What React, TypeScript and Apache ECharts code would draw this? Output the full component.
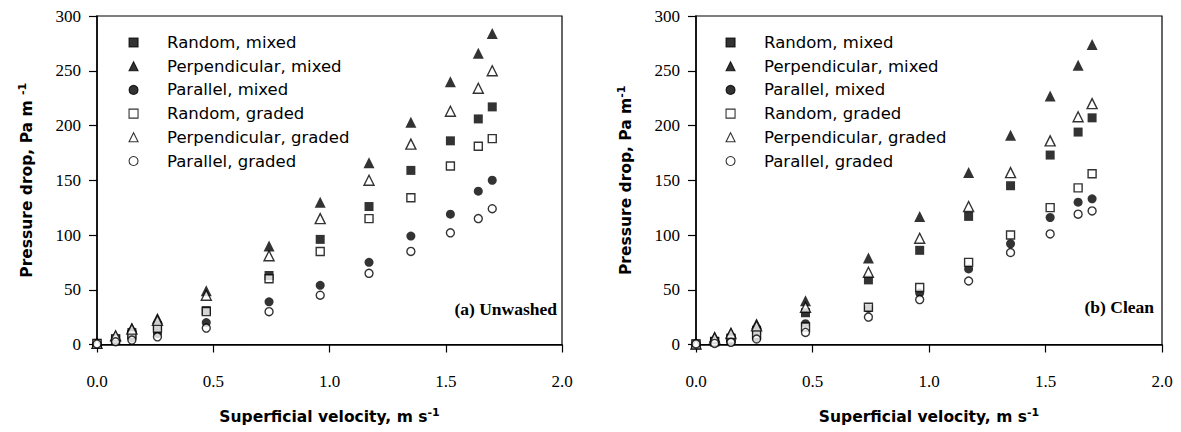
import React, { useEffect, useRef } from "react";
import * as echarts from "echarts";

// Superficial velocity (m s-1), shared by both panels
const velocity = [0, 0.08, 0.15, 0.26, 0.47, 0.74, 0.96, 1.17, 1.35, 1.52, 1.64, 1.7];

const seriesNames = [
  "Random, mixed",
  "Perpendicular, mixed",
  "Parallel, mixed",
  "Random, graded",
  "Perpendicular, graded",
  "Parallel, graded",
];

// (a) Unwashed – pressure drop, Pa m-1
const unwashedRandomMixed = [1, 5, 11, 17, 31, 63, 96, 126, 159, 186, 206, 217];
const unwashedPerpMixed = [1, 8, 15, 24, 49, 90, 130, 166, 203, 240, 266, 284];
const unwashedParallelMixed = [0.5, 3, 6, 10, 20, 39, 54, 75, 99, 119, 140, 150];
const unwashedRandomGraded = [1, 5, 9, 15, 30, 60, 85, 115, 134, 163, 181, 188];
const unwashedPerpGraded = [1, 8, 14, 22, 45, 81, 115, 150, 183, 213, 234, 250];
const unwashedParallelGraded = [0.5, 2.5, 4, 7, 15, 30, 45, 65, 85, 102, 115, 124];

// (b) Clean – pressure drop, Pa m-1
const cleanRandomMixed = [0.5, 3, 6, 13, 29, 59, 86, 117, 145, 173, 194, 207];
const cleanPerpMixed = [0.5, 7, 11, 19, 40, 79, 117, 157, 191, 227, 255, 274];
const cleanParallelMixed = [0.5, 2, 3, 6, 19, 33, 47, 69, 92, 116, 130, 133];
const cleanRandomGraded = [0.5, 2.5, 5, 9, 16, 34, 52, 75, 100, 125, 143, 156];
const cleanPerpGraded = [0.5, 6, 10, 17, 34, 66, 97, 126, 157, 186, 208, 220];
const cleanParallelGraded = [0.5, 1, 2, 5, 11, 25, 41, 58, 84, 101, 119, 122];

const unwashedValues = [
  unwashedRandomMixed,
  unwashedPerpMixed,
  unwashedParallelMixed,
  unwashedRandomGraded,
  unwashedPerpGraded,
  unwashedParallelGraded,
];
const cleanValues = [
  cleanRandomMixed,
  cleanPerpMixed,
  cleanParallelMixed,
  cleanRandomGraded,
  cleanPerpGraded,
  cleanParallelGraded,
];

const panelLabels = ["(a) Unwashed", "(b) Clean"];
const yNames = ["Pressure drop, Pa m ", "Pressure drop, Pa m"];
const xName = "Superficial velocity, m s";
const superscript = "-1";

// marker styles
const markerSymbols = ["rect", "triangle", "circle", "rect", "triangle", "circle"];
const markerSizes = [9, 11, 9, 8, 10, 8];
const markerFilled = [true, true, true, false, false, false];

const SERIF = "'Liberation Serif', 'Times New Roman', serif";
const SANS = "'DejaVu Sans', 'Liberation Sans', Arial, sans-serif";

function buildSeries(values: number[][], axisIndex: number) {
  return values.map((vals, i) => ({
    name: seriesNames[i],
    type: "scatter",
    xAxisIndex: axisIndex,
    yAxisIndex: axisIndex,
    symbol: markerSymbols[i],
    symbolSize: markerSizes[i],
    data: vals.map((v, k) => [velocity[k], v]),
    itemStyle: markerFilled[i]
      ? { color: "#000", borderColor: "#000", borderWidth: 0 }
      : { color: "#fff", borderColor: "#000", borderWidth: 1.4 },
    emphasis: { disabled: true },
  }));
}

const richName = {
  a: { fontFamily: SANS, fontWeight: "bold", fontSize: 15.5, color: "#000", lineHeight: 20 },
  b: { fontFamily: SANS, fontWeight: "bold", fontSize: 11, color: "#000", verticalAlign: "top", lineHeight: 11 },
};

function makeXAxis(gridIndex: number) {
  return {
    type: "value",
    gridIndex,
    min: 0,
    max: 2,
    interval: 0.5,
    name: `{a|${xName}}{b|${superscript}}`,
    nameLocation: "middle",
    nameGap: 62,
    nameTextStyle: { rich: richName },
    axisLine: { show: true, onZero: false, lineStyle: { color: "#000", width: 1.5 } },
    axisTick: { show: true, inside: false, length: 8, lineStyle: { color: "#000", width: 1.2 } },
    axisLabel: {
      fontFamily: SERIF,
      fontSize: 17,
      color: "#000",
      margin: 28,
      formatter: (v: number) => v.toFixed(1),
    },
    splitLine: { show: false },
  };
}

function makeYAxis(gridIndex: number) {
  return {
    type: "value",
    gridIndex,
    min: 0,
    max: 300,
    interval: 50,
    name: `{a|${yNames[gridIndex]}}{b|${superscript}}`,
    nameLocation: "middle",
    nameRotate: 90,
    nameGap: 60,
    nameTextStyle: { rich: richName },
    axisLine: { show: true, onZero: false, lineStyle: { color: "#000", width: 1.5 } },
    axisTick: { show: true, inside: false, length: 8, lineStyle: { color: "#000", width: 1.2 } },
    axisLabel: { fontFamily: SERIF, fontSize: 17, color: "#000", margin: 16 },
    splitLine: { show: false },
  };
}

function makeLegend(left: number) {
  return {
    left,
    top: 34,
    orient: "vertical",
    padding: 0,
    itemWidth: 9,
    itemHeight: 9,
    itemGap: 6.7,
    selectedMode: false,
    data: seriesNames,
    itemStyle: { borderWidth: 1.1 },
    textStyle: {
      fontFamily: SANS,
      fontSize: 16.5,
      color: "#000",
      lineHeight: 17,
      padding: [0, 0, 0, 24],
    },
  };
}

export default function App() {
  const ref = useRef<HTMLDivElement>(null);

  useEffect(() => {
    if (!ref.current) return;
    const chart = echarts.init(ref.current, null, { renderer: "svg" });
    const option = {
      animation: false,
      backgroundColor: "#fff",
      grid: [
        { left: 97, top: 16, width: 465, height: 328.5, show: true, borderColor: "#000", borderWidth: 1.2, backgroundColor: "transparent" },
        { left: 696, top: 16, width: 466, height: 328.5, show: true, borderColor: "#000", borderWidth: 1.2, backgroundColor: "transparent" },
      ],
      xAxis: [makeXAxis(0), makeXAxis(1)],
      yAxis: [makeYAxis(0), makeYAxis(1)],
      legend: [makeLegend(128.5), makeLegend(725.5)],
      series: [...buildSeries(unwashedValues, 0), ...buildSeries(cleanValues, 1)],
      graphic: [
        {
          type: "text",
          x: 557,
          y: 309,
          style: {
            text: panelLabels[0],
            fontFamily: SERIF,
            fontWeight: "bold",
            fontSize: 17.5,
            fill: "#000",
            textAlign: "right",
            textVerticalAlign: "middle",
          },
        },
        {
          type: "text",
          x: 1154,
          y: 307,
          style: {
            text: panelLabels[1],
            fontFamily: SERIF,
            fontWeight: "bold",
            fontSize: 17.5,
            fill: "#000",
            textAlign: "right",
            textVerticalAlign: "middle",
          },
        },
      ],
    };
    chart.setOption(option as any);
    return () => {
      chart.dispose();
    };
  }, []);

  return (
    <div
      ref={ref}
      style={{ position: "absolute", left: 0, top: 0, width: 1181, height: 432 }}
    />
  );
}
